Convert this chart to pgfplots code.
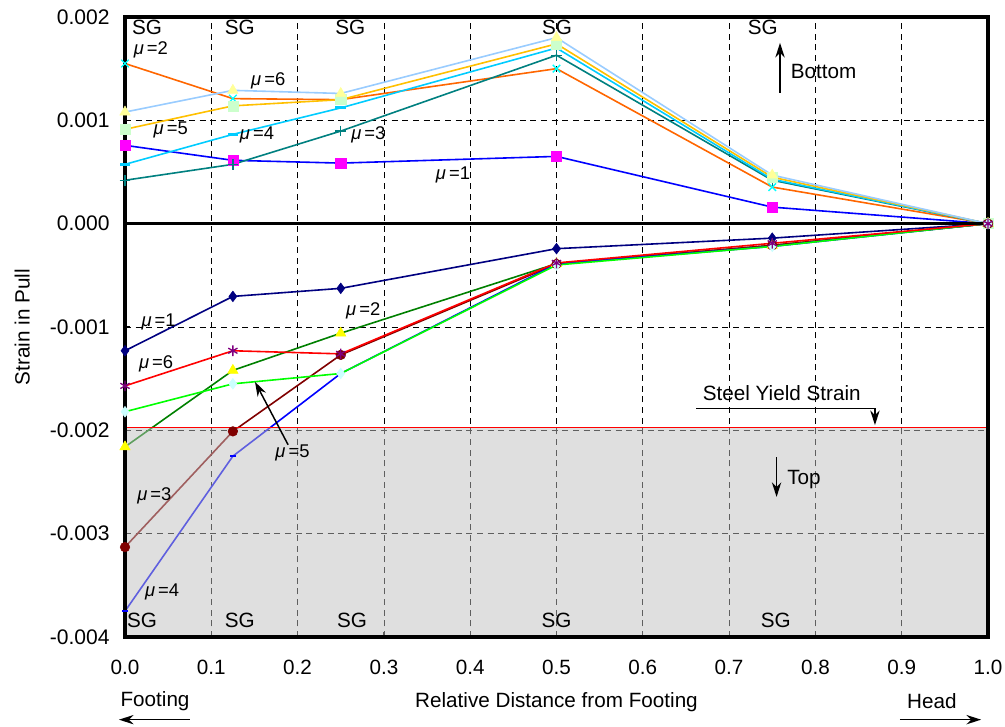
\documentclass[border=0pt]{standalone}
\usepackage{pgfplots}
\pgfplotsset{compat=1.18}
\usepackage{pgfplotstable}
\usetikzlibrary{arrows.meta}
\usepackage{fontspec}
\setmainfont{Liberation Sans}
\newcommand{\mylab}{\fontsize{15.5}{18}\selectfont}
\newcommand{\mulab}[1]{{\fontsize{13.8}{16}\selectfont\textit{μ}\,=#1}}

% top (Bottom fibre) series
\pgfplotstableread{
x y
0     0.000758
0.125 0.000613
0.25  0.000586
0.5   0.000651
0.75  0.000160
1     0
}\TA
\pgfplotstableread{
x y
0     0.00155
0.125 0.00121
0.25  0.00120
0.5   0.00150
0.75  0.000354
1     0
}\TB
\pgfplotstableread{
x y
0     0.00042
0.125 0.000574
0.25  0.000896
0.5   0.00163
0.75  0.00042
1     0
}\TC
\pgfplotstableread{
x y
0     0.000574
0.125 0.000864
0.25  0.00112
0.5   0.00170
0.75  0.00043
1     0
}\TD
\pgfplotstableread{
x y
0     0.000913
0.125 0.00114
0.25  0.00120
0.5   0.00174
0.75  0.00045
1     0
}\TE
\pgfplotstableread{
x y
0     0.00108
0.125 0.00129
0.25  0.00126
0.5   0.00180
0.75  0.00047
1     0
}\TF
% lower (Top fibre) series
\pgfplotstableread{
x y
0     -0.00123
0.125 -0.000704
0.25  -0.000626
0.5   -0.000242
0.75  -0.00014
1     0
}\BA
\pgfplotstableread{
x y
0     -0.00216
0.125 -0.00142
0.25  -0.00106
0.5   -0.000387
0.75  -0.00021
1     0
}\BB
\pgfplotstableread{
x y
0     -0.00313
0.125 -0.00201
0.25  -0.00127
0.5   -0.00039
0.75  -0.00021
1     0
}\BC
\pgfplotstableread{
x y
0     -0.00375
0.125 -0.00225
0.25  -0.00145
0.5   -0.00039
0.75  -0.00022
1     0
}\BD
\pgfplotstableread{
x y
0     -0.00182
0.125 -0.00155
0.25  -0.00145
0.5   -0.00040
0.75  -0.00022
1     0
}\BE
\pgfplotstableread{
x y
0     -0.00157
0.125 -0.00123
0.25  -0.00126
0.5   -0.00038
0.75  -0.00019
1     0
}\BF

\definecolor{cA}{HTML}{0000FF}
\definecolor{cB}{HTML}{FF6600}
\definecolor{cC}{HTML}{008080}
\definecolor{cD}{HTML}{00CCFF}
\definecolor{cE}{HTML}{FFC000}
\definecolor{cF}{HTML}{99CCFF}
\definecolor{dA}{HTML}{000080}
\definecolor{dB}{HTML}{008000}
\definecolor{dC}{HTML}{800000}
\definecolor{dD}{HTML}{0000FF}
\definecolor{dE}{HTML}{00FF00}
\definecolor{dF}{HTML}{FF0000}
\definecolor{mMag}{HTML}{FF00FF}
\definecolor{mCyan}{HTML}{00FFFF}
\definecolor{mLtGreen}{HTML}{CCFFCC}
\definecolor{mLtYellow}{HTML}{FFFF99}
\definecolor{mYellow}{HTML}{FFFF00}
\definecolor{mLtCyan}{HTML}{CCFFFF}
\definecolor{mPurple}{HTML}{800080}

\begin{document}
\begin{tikzpicture}
\begin{axis}[
  at={(0,0)}, anchor=south west,
  scale only axis,
  width=647.25pt, height=465pt,
  xmin=0, xmax=1, ymin=-0.004, ymax=0.002,
  xtick={0,0.1,...,1.0},
  ytick={-0.004,-0.003,-0.002,-0.001,0,0.001,0.002},
  scaled y ticks=false, scaled x ticks=false,
  /pgf/number format/assume math mode=true,
  xticklabel style={/pgf/number format/.cd,fixed,fixed zerofill,precision=1,/tikz/.cd,font=\mylab, yshift=-13.5pt},
  yticklabel style={/pgf/number format/.cd,fixed,fixed zerofill,precision=3,/tikz/.cd,font=\fontsize{15.8}{18}\selectfont, xshift=-8pt},
  tick pos=left,
  major tick length=4pt,
  tick style={black, line width=0.8pt},
  grid=major,
  major grid style={black, line width=0.6pt, dash pattern=on 4.5pt off 3.5pt},
  axis line style={line width=2.2pt},
  xlabel={Relative Distance from Footing},
  xlabel style={font=\mylab, at={(axis description cs:0.5,-0.105)}, anchor=center},
  ylabel={Strain in Pull},
  ylabel style={font=\mylab, at={(axis description cs:-0.119,0.5)}, anchor=center},
  clip=false,
]
% lines
\addplot[cA, line width=1.2pt, no marks] table {\TA};
\addplot[cB, line width=1.2pt, no marks] table {\TB};
\addplot[cC, line width=1.2pt, no marks] table {\TC};
\addplot[cD, line width=1.2pt, no marks] table {\TD};
\addplot[cE, line width=1.2pt, no marks] table {\TE};
\addplot[cF, line width=1.2pt, no marks] table {\TF};
\addplot[dA, line width=1.2pt, no marks] table {\BA};
\addplot[dB, line width=1.2pt, no marks] table {\BB};
\addplot[dC, line width=1.2pt, no marks] table {\BC};
\addplot[dD, line width=1.2pt, no marks] table {\BD};
\addplot[dE, line width=1.2pt, no marks] table {\BE};
\addplot[dF, line width=1.2pt, no marks] table {\BF};
% shaded zone beyond yield
\fill[black!25, opacity=0.5] (axis cs:0,-0.00197) rectangle (axis cs:1,-0.004);
% markers
\addplot[only marks, mark=square*, mark size=3.8pt, mark options={fill=mMag, draw=mMag}] table {\TA};
\addplot[only marks, mark=x, mark size=4pt, mark options={draw=mCyan, line width=1pt}] table {\TB};
\addplot[only marks, mark=+, mark size=4pt, mark options={draw=cC, line width=1pt}] table {\TC};
\addplot[only marks, mark=-, mark size=4pt, mark options={draw=cD, line width=2.2pt}] table {\TD};
\addplot[only marks, mark=square*, mark size=3.8pt, mark options={fill=mLtGreen, draw=mLtGreen}] table {\TE};
\addplot[only marks, mark=triangle*, mark size=4.5pt, mark options={fill=mLtYellow, draw=mLtYellow}] table {\TF};
\addplot[only marks, mark=diamond*, mark size=4pt, mark options={fill=dA, draw=dA}] table {\BA};
\addplot[only marks, mark=triangle*, mark size=4.5pt, mark options={fill=mYellow, draw=mYellow}] table {\BB};
\addplot[only marks, mark=*, mark size=3.6pt, mark options={fill=dC, draw=dC}] table {\BC};
\addplot[only marks, mark=-, mark size=2.5pt, mark options={draw=dD, line width=1.5pt}] table {\BD};
\addplot[only marks, mark=diamond*, mark size=4pt, mark options={fill=mLtCyan, draw=mLtCyan}] table {\BE};
\addplot[only marks, mark=asterisk, mark size=4pt, mark options={draw=mPurple, line width=1pt}] table {\BF};
% yield line
\draw[red, line width=1pt] (axis cs:0,-0.00197) -- (axis cs:1,-0.00197);
% zero line and frame
\draw[black, line width=2.2pt] (axis cs:0,0) -- (axis cs:1,0);
\draw[black, line width=2.4pt] (rel axis cs:0,0) rectangle (rel axis cs:1,1);
% SG labels
\node[font=\mylab] at (axis cs:0.0255,0.0019) {SG};
\node[font=\mylab] at (axis cs:0.133,0.0019) {SG};
\node[font=\mylab] at (axis cs:0.261,0.0019) {SG};
\node[font=\mylab] at (axis cs:0.5006,0.0019) {SG};
\node[font=\mylab] at (axis cs:0.739,0.0019) {SG};
\node[font=\mylab] at (axis cs:0.0197,-0.00384) {SG};
\node[font=\mylab] at (axis cs:0.133,-0.00384) {SG};
\node[font=\mylab] at (axis cs:0.263,-0.00384) {SG};
\node[font=\mylab] at (axis cs:0.5,-0.00384) {SG};
\node[font=\mylab] at (axis cs:0.754,-0.00384) {SG};
% mu labels, upper group
\node at (axis cs:0.030,0.00168) {\mulab{2}};
\node at (axis cs:0.166,0.00138) {\mulab{6}};
\node at (axis cs:0.053,0.000906) {\mulab{5}};
\node at (axis cs:0.153,0.000858) {\mulab{4}};
\node at (axis cs:0.282,0.000858) {\mulab{3}};
\node at (axis cs:0.380,0.00047) {\mulab{1}};
% mu labels, lower group
\node at (axis cs:0.039,-0.00095) {\mulab{1}};
\node at (axis cs:0.036,-0.00136) {\mulab{6}};
\node at (axis cs:0.276,-0.000845) {\mulab{2}};
\node at (axis cs:0.194,-0.00222) {\mulab{5}};
\node at (axis cs:0.034,-0.00263) {\mulab{3}};
\node at (axis cs:0.043,-0.00356) {\mulab{4}};
% other texts
\node[font=\mylab, anchor=west] at (axis cs:0.766,0.00147) {Bottom};
\node[font=\mylab, anchor=west] at (axis cs:0.762,-0.00248) {Top};
\node[font=\mylab] at (axis cs:0.761,-0.00164) {Steel Yield Strain};
\node[font=\mylab] at (axis cs:0.0348,-0.00462) {Footing};
\node[font=\mylab] at (axis cs:0.935,-0.00462) {Head};
% arrow anchor points
\coordinate (m5a) at (axis cs:0.189,-0.00214);
\coordinate (m5b) at (axis cs:0.1506,-0.00153);
\coordinate (boa) at (axis cs:0.759,0.001265);
\coordinate (bob) at (axis cs:0.759,0.00175);
\coordinate (toa) at (axis cs:0.755,-0.00226);
\coordinate (tob) at (axis cs:0.755,-0.002645);
\coordinate (sya) at (axis cs:0.6617,-0.00179);
\coordinate (syb) at (axis cs:0.869,-0.00179);
\coordinate (syc) at (axis cs:0.869,-0.00195);
\coordinate (fta) at (axis cs:0.0753,-0.00480);
\coordinate (ftb) at (axis cs:-0.007,-0.00480);
\coordinate (hda) at (axis cs:0.898,-0.00480);
\coordinate (hdb) at (axis cs:0.992,-0.00480);
\end{axis}
\begin{scope}[line width=1.1pt]
\draw[-{Stealth[length=11pt,width=7pt]}] (m5a) -- (m5b);
\draw[-{Stealth[length=11pt,width=7pt]}] (boa) -- (bob);
\draw[-{Stealth[length=11pt,width=7pt]}] (toa) -- (tob);
\draw[-{Stealth[length=11pt,width=7pt]}] (sya) -- (syb) -- (syc);
\draw[-{Stealth[length=11pt,width=7pt]}] (fta) -- (ftb);
\draw[-{Stealth[length=11pt,width=7pt]}] (hda) -- (hdb);
\end{scope}
\pgfresetboundingbox
\path[use as bounding box] (-93.75pt,-67.5pt) rectangle (660pt,477.75pt);
\end{tikzpicture}
\end{document}
